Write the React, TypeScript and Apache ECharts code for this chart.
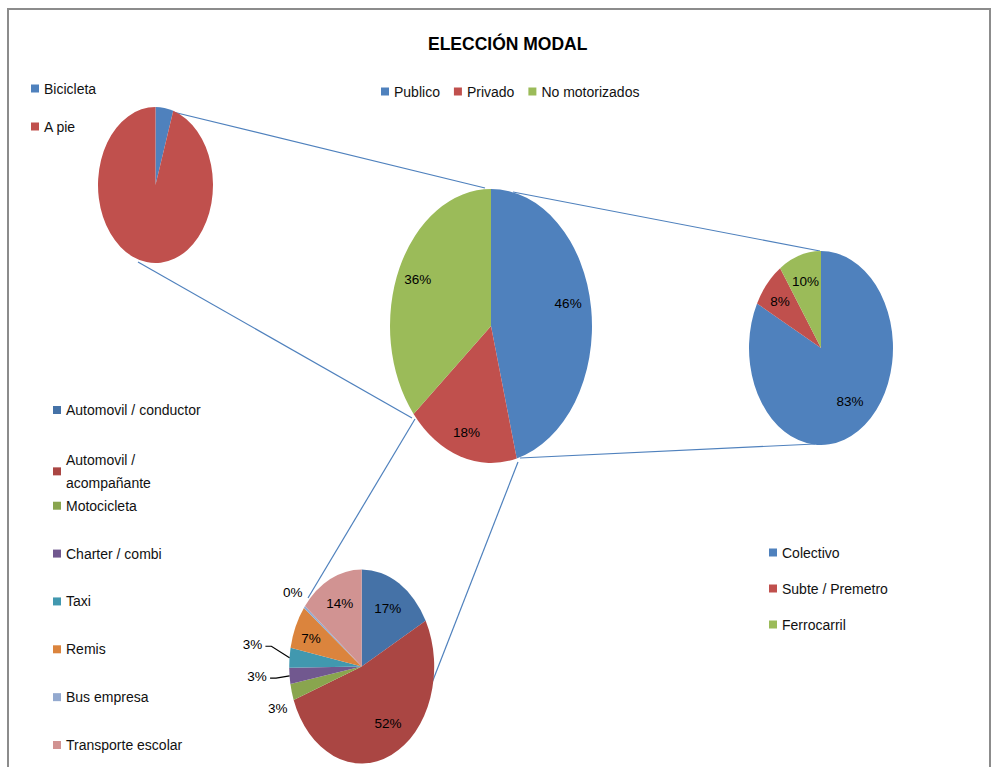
import React, { useEffect, useRef } from "react";
import * as echarts from "echarts";

// ---------- data ----------
const titleText = "ELECCIÓN MODAL";

const mainNames = ["Publico", "Privado", "No motorizados"];
const mainValues = [45.9, 18.0, 36.1];
const mainColors = ["#4F81BD", "#C0504D", "#9BBB59"];

const noMotNames = ["Bicicleta", "A pie"];
const noMotValues = [5, 95];
const noMotColors = ["#4F81BD", "#C0504D"];

const publicNames = ["Colectivo", "Subte / Premetro", "Ferrocarril"];
const publicValues = [82.6, 7.8, 9.6];
const publicColors = ["#4F81BD", "#C0504D", "#9BBB59"];

const privNames = [
  "Automovil / conductor",
  "Automovil / acompañante",
  "Motocicleta",
  "Charter / combi",
  "Taxi",
  "Remis",
  "Bus empresa",
  "Transporte escolar",
];
const privValues = [17.2, 52.2, 2.7, 2.7, 3.3, 7.2, 0.4, 14.3];
const privColors = ["#4572A7", "#AA4643", "#89A54E", "#71588F", "#4198AF", "#DB843D", "#93A9CF", "#D19392"];

// ---------- layout ----------
const FONT = "'Liberation Sans', Arial, sans-serif";

type PieCfg = {
  id: string;
  names: string[];
  values: number[];
  colors: string[];
  cx: number;
  cy: number;
  rx: number;
  ry: number;
  showLabels: boolean;
  labelR: number[];
  labelOff: number[][];
  leader: boolean[];
};

const pies: PieCfg[] = [
  {
    id: "main", names: mainNames, values: mainValues, colors: mainColors,
    cx: 491, cy: 326, rx: 101, ry: 137, showLabels: true,
    labelR: [0.8, 0.8, 0.8], labelOff: [[-3, -8], [0, 2], [0, 0]], leader: [false, false, false],
  },
  {
    id: "nomot", names: noMotNames, values: noMotValues, colors: noMotColors,
    cx: 155.5, cy: 185, rx: 57.5, ry: 78, showLabels: false,
    labelR: [0.8, 0.8], labelOff: [[0, 0], [0, 0]], leader: [false, false],
  },
  {
    id: "pub", names: publicNames, values: publicValues, colors: publicColors,
    cx: 821, cy: 348, rx: 72, ry: 97, showLabels: true,
    labelR: [0.72, 0.72, 0.72], labelOff: [[2, -6], [-2, 0], [0, 0]], leader: [false, false, false],
  },
  {
    id: "priv", names: privNames, values: privValues, colors: privColors,
    cx: 361.7, cy: 666.5, rx: 72.5, ry: 97, showLabels: true,
    labelR: [0.7, 0.65, 1.2, 1.45, 1.5, 0.72, 1.22, 0.7],
    labelOff: [[0, 0], [7, -1], [0, 11], [0, -4], [-1, -9], [-3, 1], [1, -1], [0, -2]],
    leader: [false, false, false, true, true, false, false, false],
  },
];

function buildSeries() {
  const series: any[] = [];
  pies.forEach((p) => {
    const total = p.values.reduce((a, b) => a + b, 0);
    p.names.forEach((name, i) => {
      const before = p.values.slice(0, i).reduce((a, b) => a + b, 0);
      series.push({
        type: "custom",
        name,
        coordinateSystem: "none",
        itemStyle: { color: p.colors[i] },
        data: [p.values[i]],
        z: 3,
        renderItem: (params: any, api: any) => {
          const v = api.value(0) as number;
          const a0 = -Math.PI / 2 + (2 * Math.PI * before) / total;
          const a1 = a0 + (2 * Math.PI * v) / total;
          const children: any[] = [
            {
              type: "sector",
              x: p.cx,
              y: p.cy,
              scaleY: p.ry / p.rx,
              shape: { cx: 0, cy: 0, r: p.rx, r0: 0, startAngle: a0, endAngle: a1, clockwise: true },
              style: { fill: p.colors[i] },
            },
          ];
          if (p.showLabels) {
            const th = (2 * Math.PI * (before + v / 2)) / total;
            const f = p.labelR[i];
            const lx = p.cx + f * p.rx * Math.sin(th) + p.labelOff[i][0];
            const ly = p.cy - f * p.ry * Math.cos(th) + p.labelOff[i][1];
            children.push({
              type: "text",
              x: lx,
              y: ly,
              z2: 10,
              style: {
                text: Math.round((v / total) * 100) + "%",
                fill: "#000",
                fontSize: 13.5,
                fontFamily: FONT,
                align: "center",
                verticalAlign: "middle",
              },
            });
            if (p.leader[i]) {
              const ex = p.cx + p.rx * Math.sin(th);
              const ey = p.cy - p.ry * Math.cos(th);
              children.push({
                type: "polyline",
                z2: 10,
                shape: { points: [[lx + 13, ly + 2], [lx + 19, ly + 2], [ex, ey]] },
                style: { stroke: "#000", lineWidth: 1.2, fill: "none" },
              });
            }
          }
          return { type: "group", children };
        },
      });
    });
  });
  return series;
}

const legendText = { fontSize: 14, fontFamily: FONT, color: "#111", lineHeight: 23 };
const legendBase = {
  icon: "rect",
  itemWidth: 8,
  itemHeight: 8,
  padding: 0,
  selectedMode: false,
  textStyle: legendText,
};

function buildLegends() {
  const legends: any[] = [];
  legends.push({ ...legendBase, data: noMotNames, orient: "vertical", left: 31, top: 77, itemGap: 15 });
  legends.push({ ...legendBase, data: mainNames, orient: "horizontal", left: 381, top: 80, itemGap: 14 });
  legends.push({ ...legendBase, data: publicNames, orient: "vertical", left: 769, top: 541, itemGap: 13 });
  privNames.forEach((n, i) => {
    legends.push({
      ...legendBase,
      data: [n],
      orient: "vertical",
      left: 53,
      top: 410 + i * 47.86 - 11.5 + (i === 1 ? 2 : 0),
      textStyle: { ...legendText, width: 142, overflow: "break" },
    });
  });
  return legends;
}

const connectors = [
  [173, 112, 485, 188],
  [513, 192, 820, 251],
  [138, 262, 412, 418],
  [520, 458, 815, 444],
  [415, 419, 308, 598],
  [518, 462, 428, 693],
];

export default function App() {
  const ref = useRef<HTMLDivElement>(null);
  useEffect(() => {
    if (!ref.current) return;
    const chart = echarts.init(ref.current, undefined, { renderer: "svg" });
    chart.setOption({
      animation: false,
      backgroundColor: "#fff",
      title: {
        text: titleText,
        left: 428,
        top: 35,
        padding: 0,
        textStyle: { fontSize: 17.5, fontWeight: "bold", fontFamily: FONT, color: "#000" },
      },
      legend: buildLegends(),
      graphic: [
        {
          type: "rect",
          z: 0,
          shape: { x: 8, y: 9, width: 982, height: 800 },
          style: { fill: "none", stroke: "#8c8c8c", lineWidth: 2 },
        },
        ...connectors.map((c) => ({
          type: "line",
          z: 1,
          shape: { x1: c[0], y1: c[1], x2: c[2], y2: c[3] },
          style: { stroke: "#4F81BD", lineWidth: 1.2 },
        })),
      ],
      series: buildSeries(),
    });
    return () => chart.dispose();
  }, []);
  return (
    <div
      ref={ref}
      style={{ position: "fixed", left: 0, top: 0, width: 993, height: 767 }}
    />
  );
}
